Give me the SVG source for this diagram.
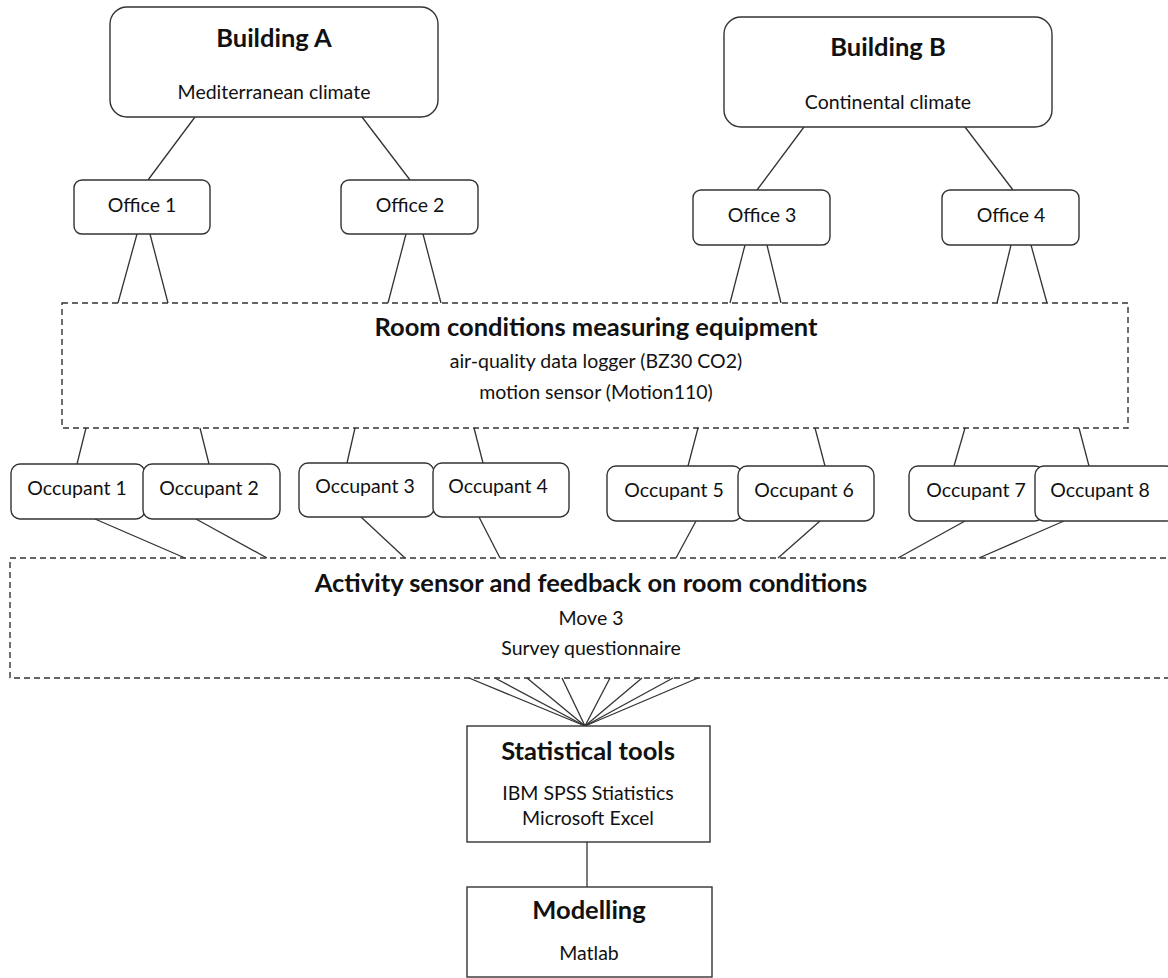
<svg xmlns="http://www.w3.org/2000/svg" width="1168" height="978" viewBox="0 0 1168 978">
<style>
.bg{fill:#fff}
.box{fill:#fff;stroke:#333;stroke-width:1.4}
.dash{fill:none;stroke:#333;stroke-width:1.4;stroke-dasharray:6,4}
.ln{stroke:#333;stroke-width:1.3;fill:none}
text{font-family:Lato,"Open Sans","Liberation Sans",sans-serif;fill:#111;text-anchor:middle}
.t{font-size:25.5px;font-weight:bold}
.s{font-size:19.5px}
</style>
<rect class="bg" x="0" y="0" width="1168" height="978"/>
<g id="connectors">
<line class="ln" x1="195" y1="117" x2="148" y2="180"/>
<line class="ln" x1="362" y1="117" x2="410" y2="180"/>
<line class="ln" x1="804" y1="127" x2="757" y2="190"/>
<line class="ln" x1="965" y1="127" x2="1013" y2="190"/>
<line class="ln" x1="137" y1="234" x2="118" y2="303"/>
<line class="ln" x1="150" y1="234" x2="168" y2="303"/>
<line class="ln" x1="406" y1="234" x2="388" y2="303"/>
<line class="ln" x1="423" y1="234" x2="441" y2="303"/>
<line class="ln" x1="745" y1="245" x2="730" y2="303"/>
<line class="ln" x1="767" y1="245" x2="781" y2="303"/>
<line class="ln" x1="1011" y1="245" x2="997" y2="303"/>
<line class="ln" x1="1031" y1="245" x2="1047" y2="303"/>
<line class="ln" x1="86" y1="428" x2="77" y2="464"/>
<line class="ln" x1="200" y1="428" x2="209" y2="464"/>
<line class="ln" x1="355" y1="428" x2="347" y2="463"/>
<line class="ln" x1="474" y1="428" x2="483" y2="463"/>
<line class="ln" x1="698" y1="428" x2="688" y2="466"/>
<line class="ln" x1="815" y1="428" x2="825" y2="466"/>
<line class="ln" x1="965" y1="428" x2="954" y2="466"/>
<line class="ln" x1="1079" y1="428" x2="1089" y2="466"/>
<line class="ln" x1="95" y1="519" x2="185" y2="558"/>
<line class="ln" x1="196" y1="519" x2="267" y2="558"/>
<line class="ln" x1="361" y1="517" x2="405" y2="558"/>
<line class="ln" x1="479" y1="517" x2="500" y2="558"/>
<line class="ln" x1="696" y1="521" x2="676" y2="558"/>
<line class="ln" x1="820" y1="521" x2="778" y2="558"/>
<line class="ln" x1="965" y1="521" x2="898" y2="558"/>
<line class="ln" x1="1064" y1="521" x2="979" y2="558"/>
<line class="ln" x1="469" y1="678" x2="585" y2="726"/>
<line class="ln" x1="495" y1="678" x2="585" y2="726"/>
<line class="ln" x1="527" y1="678" x2="585" y2="726"/>
<line class="ln" x1="562" y1="678" x2="585" y2="726"/>
<line class="ln" x1="610" y1="678" x2="585" y2="726"/>
<line class="ln" x1="642" y1="678" x2="585" y2="726"/>
<line class="ln" x1="673" y1="678" x2="585" y2="726"/>
<line class="ln" x1="698" y1="678" x2="585" y2="726"/>
<line class="ln" x1="587" y1="842" x2="587" y2="887"/>
</g>
<g id="buildingA"><rect class="box" x="110" y="7" width="328" height="110" rx="17"/><text class="t" x="274" y="47">Building A</text><text class="s" x="274" y="99">Mediterranean climate</text></g>
<g id="buildingB"><rect class="box" x="724" y="17" width="328" height="110" rx="17"/><text class="t" x="888" y="56">Building B</text><text class="s" x="888" y="109">Continental climate</text></g>
<g id="office1"><rect class="box" x="74" y="180" width="136" height="54" rx="8"/><text class="s" x="142" y="212">Office 1</text></g>
<g id="office2"><rect class="box" x="341" y="180" width="137" height="54" rx="8"/><text class="s" x="410" y="212">Office 2</text></g>
<g id="office3"><rect class="box" x="693" y="190" width="137" height="55" rx="8"/><text class="s" x="762" y="222">Office 3</text></g>
<g id="office4"><rect class="box" x="942" y="190" width="137" height="55" rx="8"/><text class="s" x="1011" y="222">Office 4</text></g>
<g id="roomEquipment"><rect class="dash" x="62" y="303" width="1066" height="125"/><text class="t" x="596" y="336">Room conditions measuring equipment</text><text class="s" x="596" y="368">air-quality data logger (BZ30 CO2)</text><text class="s" x="596" y="399">motion sensor (Motion110)</text></g>
<g id="occupant1"><rect class="box" x="11" y="464" width="134" height="55" rx="9"/><text class="s" x="77" y="495">Occupant 1</text></g>
<g id="occupant2"><rect class="box" x="143" y="464" width="137" height="55" rx="9"/><text class="s" x="209" y="495">Occupant 2</text></g>
<g id="occupant3"><rect class="box" x="299" y="463" width="135" height="54" rx="9"/><text class="s" x="365" y="493">Occupant 3</text></g>
<g id="occupant4"><rect class="box" x="433" y="463" width="136" height="54" rx="9"/><text class="s" x="498" y="493">Occupant 4</text></g>
<g id="occupant5"><rect class="box" x="607" y="466" width="135" height="55" rx="9"/><text class="s" x="674" y="497">Occupant 5</text></g>
<g id="occupant6"><rect class="box" x="738" y="466" width="136" height="55" rx="9"/><text class="s" x="804" y="497">Occupant 6</text></g>
<g id="occupant7"><rect class="box" x="909" y="466" width="135" height="55" rx="9"/><text class="s" x="976" y="497">Occupant 7</text></g>
<g id="occupant8"><rect class="box" x="1035" y="466" width="140" height="55" rx="9"/><text class="s" x="1100" y="497">Occupant 8</text></g>
<g id="activitySensor"><rect class="dash" x="10" y="558" width="1170" height="120"/><text class="t" x="591" y="592">Activity sensor and feedback on room conditions</text><text class="s" x="591" y="625">Move 3</text><text class="s" x="591" y="655">Survey questionnaire</text></g>
<g id="statisticalTools"><rect class="box" x="467" y="726" width="243" height="116"/><text class="t" x="588" y="760">Statistical tools</text><text class="s" x="588" y="800">IBM SPSS Stiatistics</text><text class="s" x="588" y="825">Microsoft Excel</text></g>
<g id="modelling"><rect class="box" x="467" y="887" width="245" height="90"/><text class="t" x="589" y="919">Modelling</text><text class="s" x="589" y="960">Matlab</text></g>
</svg>
